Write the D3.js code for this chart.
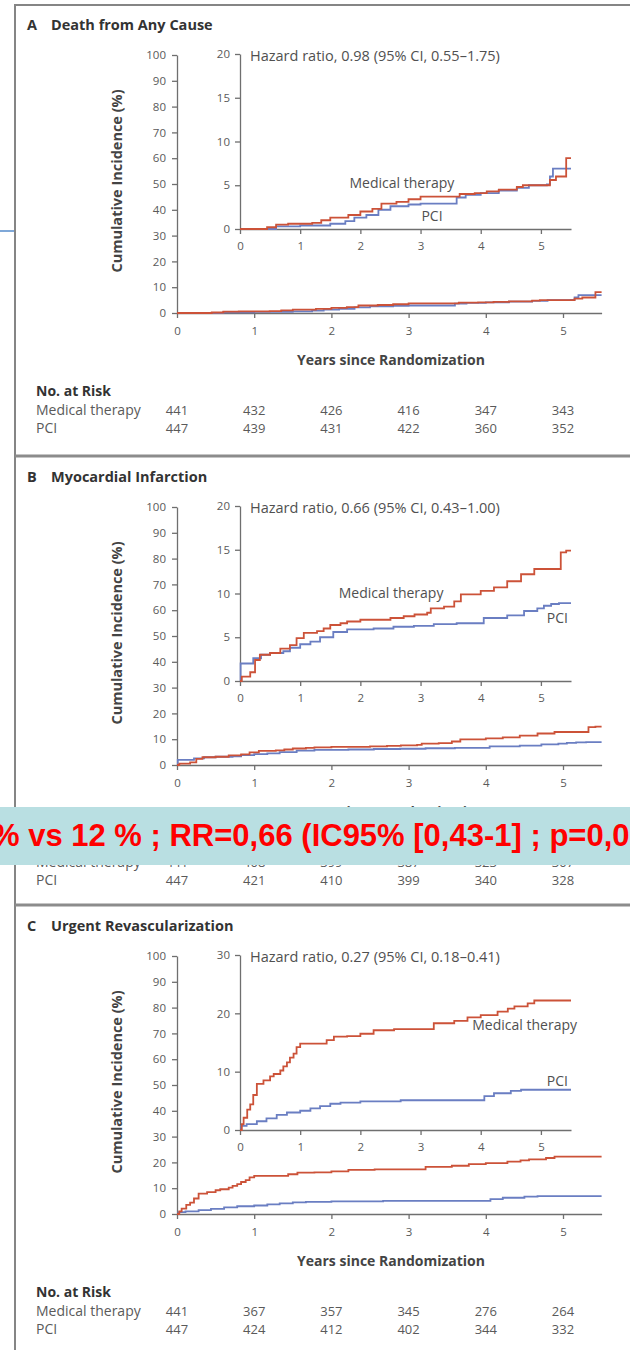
<!DOCTYPE html>
<html>
<head>
<meta charset="utf-8">
<script src="https://cdn.jsdelivr.net/npm/d3@7"></script>
<style>
  body { margin: 0; background: #fff; }
  svg { display: block; font-family: "Open Sans", sans-serif; }
  .axis path, .axis line { stroke: #6f6f6f; stroke-width: 1.3; }
  .axis text { fill: #5a5a5a; font-size: 11.5px; font-family: "Open Sans", sans-serif; }
</style>
</head>
<body>
<svg id="chart" width="630" height="1350"></svg>
<script>
// ---- data ----
const years = [0, 1, 2, 3, 4, 5];
const mainTicks = [0, 10, 20, 30, 40, 50, 60, 70, 80, 90, 100];
const titles = ["Death from Any Cause", "Myocardial Infarction", "Urgent Revascularization"];
const letters = ["A", "B", "C"];
const hazardTexts = [
  "Hazard ratio, 0.98 (95% CI, 0.55\u20131.75)",
  "Hazard ratio, 0.66 (95% CI, 0.43\u20131.00)",
  "Hazard ratio, 0.27 (95% CI, 0.18\u20130.41)"
];
const insetMax = [20, 20, 30];
const insetTicks = [[0, 5, 10, 15, 20], [0, 5, 10, 15, 20], [0, 10, 20, 30]];

// [years, cumulative incidence %]
const deathMedical = [[0,0],[0.45,0.2],[0.6,0.5],[0.8,0.6],[1.2,0.7],[1.35,1.0],[1.5,1.3],[1.8,1.6],[2.0,2.0],[2.2,2.3],[2.35,2.9],[2.6,3.1],[2.8,3.4],[3.0,3.7],[3.65,4.0],[3.9,4.1],[4.1,4.3],[4.3,4.5],[4.6,4.8],[4.7,5.0],[5.15,5.6],[5.25,6.0],[5.42,8.1],[5.5,8.1]];
const deathPCI = [[0,0],[0.6,0.3],[1.0,0.4],[1.5,0.6],[1.75,0.9],[1.9,1.3],[2.1,1.6],[2.3,2.2],[2.5,2.6],[2.8,2.8],[3.0,2.9],[3.6,3.6],[3.75,3.9],[4.0,4.1],[4.3,4.4],[4.6,4.7],[4.8,5.0],[5.1,5.1],[5.15,6.0],[5.2,6.9],[5.5,6.9]];
const miMedical = [[0,0],[0.03,0.5],[0.17,1.0],[0.25,2.4],[0.33,3.0],[0.5,3.2],[0.67,3.7],[0.83,4.1],[0.94,4.9],[1.06,5.5],[1.28,5.7],[1.39,6.0],[1.5,6.4],[1.67,6.6],[1.78,6.8],[2.0,7.0],[2.5,7.2],[2.72,7.4],[2.9,7.6],[3.11,7.8],[3.17,8.3],[3.39,8.5],[3.56,9.1],[3.67,9.9],[4.0,10.3],[4.22,10.7],[4.44,11.4],[4.67,12.2],[4.89,12.8],[5.33,14.7],[5.42,14.9],[5.5,14.9]];
const miPCI = [[0,0],[0.01,2.0],[0.22,2.6],[0.35,3.0],[0.5,3.2],[0.72,3.4],[0.83,3.8],[1.0,4.2],[1.17,4.5],[1.33,5.0],[1.55,5.6],[1.78,5.9],[2.22,6.0],[2.55,6.2],[2.89,6.3],[3.22,6.5],[3.6,6.6],[4.05,7.2],[4.44,7.5],[4.72,8.0],[4.94,8.3],[5.05,8.6],[5.17,8.8],[5.3,8.9],[5.5,8.9]];
const revascMedical = [[0,0],[0.03,1.0],[0.06,2.1],[0.12,3.5],[0.17,4.4],[0.22,6.0],[0.28,7.9],[0.39,8.5],[0.5,9.2],[0.56,9.6],[0.67,10.2],[0.72,10.9],[0.78,11.6],[0.83,12.4],[0.89,13.1],[0.94,14.2],[1.0,14.8],[1.3,14.8],[1.44,15.4],[1.56,16.0],[1.78,16.1],[2.0,16.5],[2.22,17.1],[2.56,17.3],[3.17,17.3],[3.22,18.3],[3.56,18.7],[3.78,19.3],[4.0,19.7],[4.28,20.3],[4.45,20.8],[4.56,21.2],[4.78,21.7],[4.89,22.2],[5.5,22.2]];
const revascPCI = [[0,0],[0.02,0.7],[0.11,1.0],[0.28,1.5],[0.44,2.0],[0.61,2.6],[0.78,3.0],[1.0,3.3],[1.17,3.7],[1.33,4.1],[1.5,4.5],[1.67,4.7],[2.0,4.9],[2.67,5.1],[4.0,5.1],[4.06,5.8],[4.22,6.3],[4.5,6.7],[4.67,6.9],[5.5,6.9]];

// no. at risk
const deathRiskMed = [441, 432, 426, 416, 347, 343];
const deathRiskPCI = [447, 439, 431, 422, 360, 352];
const miRiskMed = [441, 408, 399, 387, 323, 307];
const miRiskPCI = [447, 421, 410, 399, 340, 328];
const revascRiskMed = [441, 367, 357, 345, 276, 264];
const revascRiskPCI = [447, 424, 412, 402, 344, 332];

const banner = "% vs 12 % ; RR=0,66 (IC95% [0,43-1] ; p=0,05)";

// ---- layout ----
const red = "#cc5238", blue = "#6a7ec2";
const offsets = [0, 452, 901];
const labelPos = [
  { med: [2.69, 4.74, "middle"], pci: [3.19, 0.92, "middle"] },
  { med: [2.51, 9.5, "middle"], pci: [5.45, 6.6, "end"] },
  { med: [5.6, 17.2, "end"], pci: [5.45, 7.6, "end"] }
];
const series = [
  { med: deathMedical, pci: deathPCI, riskMed: deathRiskMed, riskPCI: deathRiskPCI },
  { med: miMedical, pci: miPCI, riskMed: miRiskMed, riskPCI: miRiskPCI },
  { med: revascMedical, pci: revascPCI, riskMed: revascRiskMed, riskPCI: revascRiskPCI }
];

const svg = d3.select("#chart");

// frame
svg.append("rect").attr("x", 15).attr("y", 5).attr("width", 640).attr("height", 1360)
  .attr("fill", "none").attr("stroke", "#858585").attr("stroke-width", 2);
[456, 905].forEach(y => {
  svg.append("line").attr("x1", 15).attr("x2", 640).attr("y1", y).attr("y2", y)
    .attr("stroke", "#8c8c8c").attr("stroke-width", 3);
});
// stray arrow stub from the slide
svg.append("line").attr("x1", 0).attr("x2", 14).attr("y1", 231).attr("y2", 231)
  .attr("stroke", "#7fa8d8").attr("stroke-width", 2);

const x = d3.scaleLinear().domain([0, 5.5]).range([177, 601.6]);
const xi = d3.scaleLinear().domain([0, 5.5]).range([240, 571]);
const fmt = d3.format("d");

series.forEach((s, i) => {
  const g = svg.append("g").attr("transform", `translate(0,${offsets[i]})`);
  const y = d3.scaleLinear().domain([0, 100]).range([313, 55]);
  const yi = d3.scaleLinear().domain([0, insetMax[i]]).range([229, 54]);

  // title
  const t = g.append("text").attr("x", 27).attr("y", 30)
    .attr("font-size", 14.5).attr("font-weight", 700).attr("fill", "#333");
  t.append("tspan").text(letters[i]);
  t.append("tspan").attr("x", 51).text(titles[i]);

  // main axes
  g.append("g").attr("class", "axis").attr("transform", "translate(177,0)")
    .call(d3.axisLeft(y).tickValues(mainTicks).tickFormat(fmt).tickSize(5).tickSizeOuter(0).tickPadding(6));
  g.append("g").attr("class", "axis").attr("transform", "translate(0,313)")
    .call(d3.axisBottom(x).tickValues(years).tickFormat(fmt).tickSize(5).tickSizeOuter(0).tickPadding(9));

  g.append("text").attr("transform", "translate(122,181) rotate(-90)")
    .attr("text-anchor", "middle").attr("font-size", 14.5).attr("font-weight", 700)
    .attr("fill", "#444").text("Cumulative Incidence (%)");
  g.append("text").attr("x", 391).attr("y", 365).attr("text-anchor", "middle")
    .attr("font-size", 14).attr("font-weight", 700).attr("fill", "#444")
    .text("Years since Randomization");

  const line = sc => d3.line().curve(d3.curveStepAfter)
    .x(d => sc.x(d[0])).y(d => sc.y(d[1]));

  // main curves
  g.append("path").datum(s.pci).attr("fill", "none").attr("stroke", blue)
    .attr("stroke-width", 1.8).attr("d", line({ x: x, y: y }));
  g.append("path").datum(s.med).attr("fill", "none").attr("stroke", red)
    .attr("stroke-width", 1.8).attr("d", line({ x: x, y: y }));

  // inset
  g.append("g").attr("class", "axis").attr("transform", "translate(240,0)")
    .call(d3.axisLeft(yi).tickValues(insetTicks[i]).tickFormat(fmt).tickSize(5).tickSizeOuter(0).tickPadding(5));
  g.append("g").attr("class", "axis").attr("transform", "translate(0,229)")
    .call(d3.axisBottom(xi).tickValues(years).tickFormat(fmt).tickSize(5).tickSizeOuter(0).tickPadding(8));
  g.selectAll(".axis .domain").attr("stroke-width", 1.4);

  g.append("text").attr("x", 250).attr("y", 61).attr("font-size", 14.5).attr("fill", "#505050")
    .text(hazardTexts[i]);

  g.append("path").datum(s.pci).attr("fill", "none").attr("stroke", blue)
    .attr("stroke-width", 1.8).attr("d", line({ x: xi, y: yi }));
  g.append("path").datum(s.med).attr("fill", "none").attr("stroke", red)
    .attr("stroke-width", 1.8).attr("d", line({ x: xi, y: yi }));

  const lp = labelPos[i];
  g.append("text").attr("x", xi(lp.med[0])).attr("y", yi(lp.med[1]))
    .attr("text-anchor", lp.med[2]).attr("font-size", 14).attr("fill", "#505050").text("Medical therapy");
  g.append("text").attr("x", xi(lp.pci[0])).attr("y", yi(lp.pci[1]))
    .attr("text-anchor", lp.pci[2]).attr("font-size", 14).attr("fill", "#505050").text("PCI");

  // no. at risk
  g.append("text").attr("x", 36).attr("y", 396).attr("font-size", 14).attr("font-weight", 700)
    .attr("fill", "#333").text("No. at Risk");
  [["Medical therapy", s.riskMed, 415], ["PCI", s.riskPCI, 433]].forEach(r => {
    g.append("text").attr("x", 36).attr("y", r[2]).attr("font-size", 14).attr("fill", "#5a5a5a").text(r[0]);
    g.selectAll(null).data(r[1]).join("text")
      .attr("x", (d, k) => x(years[k])).attr("y", r[2]).attr("text-anchor", "middle")
      .attr("font-size", 13).attr("fill", "#5a5a5a").text(d => d);
  });
});

// overlay banner
svg.append("rect").attr("x", 0).attr("y", 807).attr("width", 630).attr("height", 58).attr("fill", "#b9dfe2");
svg.append("text").attr("x", -8).attr("y", 846).attr("font-family", "Liberation Sans, Arial, sans-serif")
  .attr("font-size", 31).attr("font-weight", 700).attr("fill", "#f00").text(banner);
</script>
</body>
</html>
